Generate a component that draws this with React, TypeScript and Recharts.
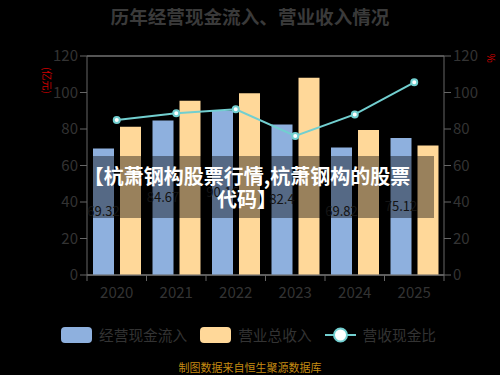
import React from 'react';
import { ComposedChart, Bar, Line, XAxis, YAxis, CartesianGrid, LabelList } from 'recharts';

const years = ['2020', '2021', '2022', '2023', '2024', '2025'];
const cashInflow = [69.32, 84.67, 90.16, 82.4, 69.82, 75.12];
const revenue = [81.3, 95.5, 99.6, 108.1, 79.5, 70.9];
const cashRatio = [84.9, 88.6, 90.8, 76.2, 88.0, 105.6];
const yTicks = [0, 20, 40, 60, 80, 100, 120];

const data = years.map((year, i) => ({
  year,
  cash: cashInflow[i],
  revenue: revenue[i],
  ratio: cashRatio[i],
}));

const FONT = '"Noto Sans CJK SC", "Noto Sans", sans-serif';
const BLUE = '#8EB0DE';
const ORANGE = '#FFD899';
const TEAL = '#72CFD0';
const TEXT = '#333';
const AXIS = '#666';

// plot width = 500 - left axis - right axis
const BAND = (500 - 87 - 56) / years.length;

const YearTick = (props: any) => {
  const { x, y, payload, index } = props;
  const left = x - BAND / 2;
  const right = x + BAND / 2;
  return (
    <g>
      <line x1={left} y1={y} x2={left} y2={y + 6} stroke={AXIS} />
      {index === years.length - 1 && <line x1={right} y1={y} x2={right} y2={y + 6} stroke={AXIS} />}
      <text x={x} y={y + 23} textAnchor="middle" fill={TEXT} fontSize={15} fontFamily={FONT}>
        {payload.value}
      </text>
    </g>
  );
};

const legendItems = [
  { name: '经营现金流入', color: BLUE, type: 'bar' },
  { name: '营业总收入', color: ORANGE, type: 'bar' },
  { name: '营收现金比', color: TEAL, type: 'line' },
];

const ChartLegend = () => (
  <div style={{ position: 'absolute', top: 327, left: 61, display: 'flex', alignItems: 'center', fontFamily: FONT }}>
    {legendItems.map((item) => (
      <div key={item.name} style={{ display: 'flex', alignItems: 'center', marginRight: 13 }}>
        {item.type === 'bar' ? (
          <div style={{ width: 31, height: 16, background: item.color, borderRadius: 4 }} />
        ) : (
          <svg width={31} height={16}>
            <line x1={0} y1={8} x2={31} y2={8} stroke={item.color} strokeWidth={2} />
            <circle cx={15.5} cy={8} r={6.5} fill="#fff" stroke={item.color} strokeWidth={2} />
          </svg>
        )}
        <span style={{ marginLeft: 7, fontSize: 14.7, lineHeight: '16px', color: TEXT }}>{item.name}</span>
      </div>
    ))}
  </div>
);

const App = () => {
  return (
    <div style={{ position: 'absolute', left: 0, top: 0, width: 500, height: 375, background: '#000', fontFamily: FONT }}>
      <div style={{ position: 'absolute', top: 2, left: 0, width: 500, textAlign: 'center', fontSize: 18.6, fontWeight: 700, color: '#3a3a3a' }}>
        历年经营现金流入、营业收入情况
      </div>
      <div style={{ position: 'absolute', left: 37, top: 71, width: 20, height: 12, fontSize: 10, lineHeight: '12px', color: '#d00000', transform: 'rotate(90deg)', whiteSpace: 'nowrap', textAlign: 'center' }}>
        (亿元)
      </div>
      <div style={{ position: 'absolute', left: 485, top: 52, width: 12, height: 12, fontSize: 10, lineHeight: '12px', color: '#d00000', transform: 'rotate(90deg)', textAlign: 'center' }}>
        %
      </div>
      <ComposedChart
        width={500}
        height={375}
        data={data}
        margin={{ top: 56, right: 0, left: 0, bottom: 70 }}
        barCategoryGap="10%"
        barGap={6}
      >
        <CartesianGrid horizontal vertical={false} stroke="#aaa" />
        <XAxis
          dataKey="year"
          height={30}
          stroke={AXIS}
          tickLine={false}
          tickSize={0}
          tickMargin={0}
          tick={<YearTick />}
          interval={0}
        />
        <YAxis
          yAxisId="left"
          width={87}
          domain={[0, 120]}
          ticks={yTicks}
          stroke={AXIS}
          tickSize={7}
          tick={{ fill: TEXT, fontSize: 15, fontFamily: FONT }}
        />
        <YAxis
          yAxisId="right"
          orientation="right"
          width={56}
          domain={[0, 120]}
          ticks={yTicks}
          stroke={AXIS}
          tickSize={7}
          tick={{ fill: TEXT, fontSize: 15, fontFamily: FONT, textAnchor: 'start' }}
        />
        <Bar yAxisId="left" dataKey="cash" name="经营现金流入" fill={BLUE} barSize={21} isAnimationActive={false}>
          <LabelList dataKey="cash" position="center" fill="#222" fontSize={13} fontFamily={FONT} />
        </Bar>
        <Bar yAxisId="left" dataKey="revenue" name="营业总收入" fill={ORANGE} barSize={21} isAnimationActive={false} />
        <Line
          yAxisId="right"
          dataKey="ratio"
          name="营收现金比"
          stroke={TEAL}
          strokeWidth={2}
          dot={{ r: 3, fill: '#fff', stroke: TEAL, strokeWidth: 2 }}
          isAnimationActive={false}
        />
      </ComposedChart>
      <ChartLegend />
      <div style={{ position: 'absolute', left: 88, top: 156, width: 346, height: 62, background: 'rgba(0,0,0,0.4)' }} />
      <div style={{ position: 'absolute', left: 72, top: 164, width: 350, textAlign: 'center', fontSize: 20, lineHeight: '23px', fontWeight: 700, color: '#fff' }}>
        【杭萧钢构股票行情,杭萧钢构的股票<br />代码】
      </div>
      <div style={{ position: 'absolute', top: 359, left: 0, width: 500, textAlign: 'center', fontSize: 11, color: '#C48A12' }}>
        制图数据来自恒生聚源数据库
      </div>
    </div>
  );
};

export default App;
